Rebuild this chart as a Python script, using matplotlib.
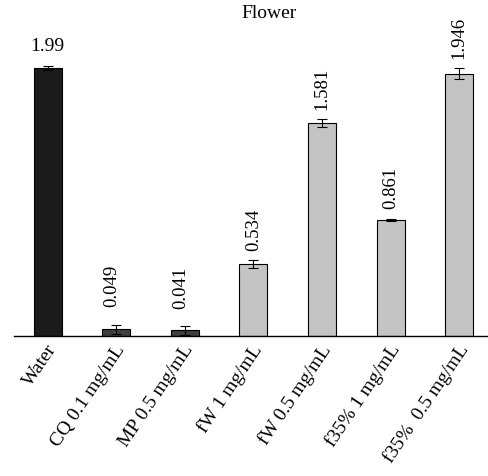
import matplotlib
matplotlib.use("Agg")
import matplotlib.pyplot as plt
from matplotlib.transforms import ScaledTranslation

plt.rcParams['font.family'] = ['Liberation Serif', 'DejaVu Serif']

categories = ["Water", "CQ 0.1 mg/mL", "MP 0.5 mg/mL", "fW 1 mg/mL",
              "fW 0.5 mg/mL", "f35% 1 mg/mL", "f35%  0.5 mg/mL"]
values = [1.99, 0.049, 0.041, 0.534, 1.581, 0.861, 1.946]
errors = [0.015, 0.035, 0.03, 0.03, 0.03, 0.01, 0.04]
labels = ["1.99", "0.049", "0.041", "0.534", "1.581", "0.861", "1.946"]
colors = ["#1c1a1a", "#3f3f3f", "#3f3f3f", "#c4c4c4", "#c4c4c4", "#c4c4c4", "#c4c4c4"]

fig = plt.figure(figsize=(4.88, 4.76), dpi=100)
ax = fig.add_axes([14/488, 140/476, 474/488, 316/476])

x = list(range(len(categories)))
ax.bar(x, values, width=0.41, color=colors, edgecolor="black", linewidth=0.8,
       yerr=errors, capsize=3.5, error_kw=dict(elinewidth=0.8, capthick=0.8, ecolor="black"))

for i in x:
    top = values[i] + errors[i]
    if i == 0:
        ax.text(i, top + 0.08, labels[i], ha="center", va="bottom", fontsize=14)
    elif values[i] < 0.1:
        ax.text(i - 0.06, top + 0.13, labels[i], ha="center", va="bottom", rotation=90, fontsize=13.5)
    else:
        ax.text(i, top + 0.07, labels[i], ha="center", va="bottom", rotation=90, fontsize=13.5)

ax.set_xlim(-0.49, 6.42)
ax.set_ylim(0, 2.346)
ax.set_xticks(x)
ax.set_xticklabels(categories, rotation=56, ha="right", rotation_mode="anchor", fontsize=14)
ax.tick_params(axis="x", length=0, pad=4)
shift = ScaledTranslation(-2/100, 0, fig.dpi_scale_trans)
for t in ax.get_xticklabels():
    t.set_transform(t.get_transform() + shift)
ax.set_yticks([])
for s in ["top", "right", "left"]:
    ax.spines[s].set_visible(False)
ax.spines["bottom"].set_linewidth(1.0)

fig.text(269/488, 1 - 13/476, "Flower", ha="center", va="center", fontsize=14)

fig.savefig("out.png", dpi=100)
